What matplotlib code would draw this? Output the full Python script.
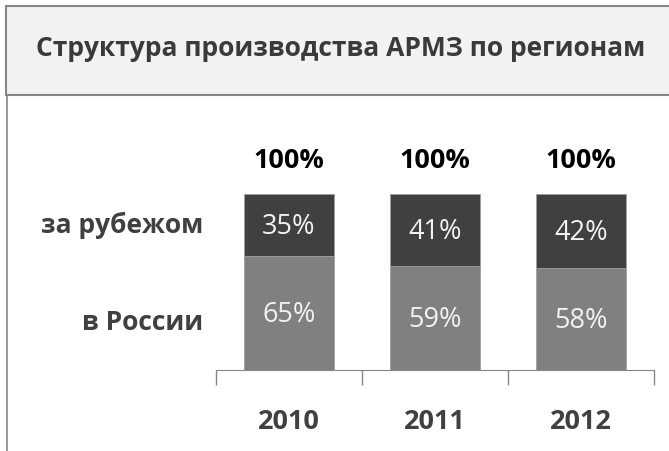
import matplotlib.pyplot as plt
from matplotlib.patches import Rectangle
from matplotlib.lines import Line2D

plt.rcParams['font.family'] = ['Open Sans', 'DejaVu Sans']

years = ['2010', '2011', '2012']
russia = [65, 59, 58]
abroad = [35, 41, 42]
totals = [100, 100, 100]
series_names = ['в России', 'за рубежом']
title = 'Структура производства АРМЗ по регионам'

W, H = 669, 451
fig = plt.figure(figsize=(W / 100, H / 100), dpi=100)

# title box
fig.patches.append(Rectangle((6 / W, (H - 95) / H), 1.0, 89 / H, transform=fig.transFigure,
                             facecolor='#f2f2f2', edgecolor='#868686', linewidth=1.5))
fig.lines.append(Line2D([7 / W, 7 / W], [0, (H - 95) / H], transform=fig.transFigure,
                        color='#868686', linewidth=1.2))
fig.text(341 / W, (H - 48) / H, title, ha='center', va='center',
         fontsize=19, fontweight='bold', color='#3a3a3a')

ax = fig.add_axes([216 / W, (H - 370) / H, (654 - 216) / W, 176 / H])
x = range(len(years))
ax.bar(x, russia, width=0.62, color='#808080', edgecolor='#a0a0a0', linewidth=0.6)
ax.bar(x, abroad, width=0.62, bottom=russia, color='#404040', edgecolor='#a0a0a0', linewidth=0.6)
ax.set_xlim(-0.5, 2.5)
ax.set_ylim(0, 100)

for i in x:
    ax.text(i, russia[i] / 2 - 1, f'{russia[i]}%', ha='center', va='center',
            fontsize=19.5, color='#f2f2f2')
    ax.text(i, russia[i] + abroad[i] / 2 - 1, f'{abroad[i]}%', ha='center', va='center',
            fontsize=19.5, color='#f2f2f2')
    ax.text(i, totals[i] + 19, f'{totals[i]}%', ha='center', va='center',
            fontsize=19.5, fontweight='bold', color='black')

# series labels on the left
fig.text(203 / W, (H - 323) / H, series_names[0], ha='right', va='center',
         fontsize=19, fontweight='bold', color='#404040')
fig.text(203 / W, (H - 225) / H, series_names[1], ha='right', va='center',
         fontsize=19, fontweight='bold', color='#404040')

for s in ['top', 'right', 'left']:
    ax.spines[s].set_visible(False)
ax.spines['bottom'].set_color('#868686')
ax.set_yticks([])
ax.set_xticks(list(x))
ax.set_xticklabels(years, fontsize=19.5, fontweight='bold', color='#404040')
ax.tick_params(axis='x', which='major', length=0, pad=28)
ax.set_xticks([-0.5, 0.5, 1.5, 2.5], minor=True)
ax.tick_params(axis='x', which='minor', length=11, color='#868686', width=1)

fig.savefig('out.png', dpi=100)
